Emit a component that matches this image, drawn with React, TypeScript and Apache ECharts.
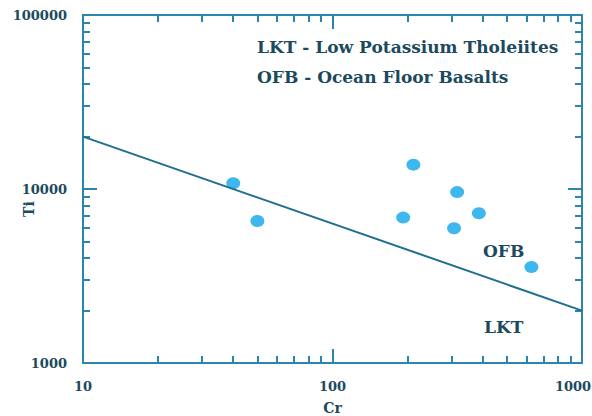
import React, { useEffect, useRef } from "react";
import * as echarts from "echarts";

const crValues = [40, 50, 211, 192, 316, 307, 386, 627];
const tiValues = [10800, 6550, 13800, 6850, 9600, 5950, 7250, 3560];
const boundaryCr = [10, 1000];
const boundaryTi = [20000, 2000];
const xMajor = [10, 100, 1000];
const xMinor = [20, 30, 40, 50, 60, 70, 80, 90, 200, 300, 400, 500, 600, 700, 800, 900];
const yMajor = [1000, 10000, 100000];
const yMinor = [2000, 3000, 4000, 5000, 6000, 7000, 8000, 9000, 20000, 30000, 40000, 50000, 60000, 70000, 80000, 90000];
const legendLines = ["LKT - Low Potassium Tholeiites", "OFB - Ocean Floor Basalts"];

const AXIS = "#2a85ad";
const TEXT = "#1b4a5e";
const FONT = "'DejaVu Serif', serif";

export default function App() {
  const ref = useRef<HTMLDivElement>(null);
  useEffect(() => {
    document.body.style.margin = "0";
    const chart = echarts.init(ref.current!, null, { renderer: "svg" });
    const baseX = (pos: string, major: boolean, show: boolean) => ({
      type: "log",
      logBase: 10,
      min: 10,
      max: 1000,
      position: pos,
      gridIndex: 0,
      axisLine: { show: true, onZero: false, lineStyle: { color: AXIS, width: 2 } },
      axisTick: {
        show: true,
        inside: true,
        length: major ? 14 : 7,
        customValues: major ? xMajor : xMinor,
        lineStyle: { color: AXIS, width: 2 },
      },
      axisLabel: {
        show,
        margin: 17,
        color: TEXT,
        fontFamily: FONT,
        fontWeight: "bold",
        fontSize: 13,
        formatter: (v: number) => (v >= 1000 ? `{m|${v}}` : String(v)),
        rich: {
          m: { padding: [0, 18, 0, 0], color: TEXT, fontFamily: FONT, fontWeight: "bold", fontSize: 13 },
        },
      },
      splitLine: { show: false },
      name: show ? "Cr" : "",
      nameLocation: "middle",
      nameGap: 38,
      nameMoveOverlap: false,
      nameTextStyle: { color: TEXT, fontFamily: FONT, fontWeight: "bold", fontSize: 14 },
    });
    const baseY = (pos: string, major: boolean, show: boolean) => ({
      type: "log",
      logBase: 10,
      min: 1000,
      max: 100000,
      position: pos,
      gridIndex: 0,
      axisLine: { show: true, onZero: false, lineStyle: { color: AXIS, width: 2 } },
      axisTick: {
        show: true,
        inside: true,
        length: major ? 14 : 7,
        customValues: major ? yMajor : yMinor,
        lineStyle: { color: AXIS, width: 2 },
      },
      axisLabel: {
        show,
        margin: 16,
        color: TEXT,
        fontFamily: FONT,
        fontWeight: "bold",
        fontSize: 13,
        formatter: (v: number) => String(v),
      },
      splitLine: { show: false },
    });
    chart.setOption({
      animation: false,
      backgroundColor: "#ffffff",
      grid: { left: 83, right: 10, top: 15, bottom: 53, containLabel: false, outerBoundsMode: "none" },
      xAxis: [
        baseX("bottom", true, true),
        baseX("bottom", false, false),
        baseX("top", true, false),
        baseX("top", false, false),
      ],
      yAxis: [
        baseY("left", true, true),
        baseY("left", false, false),
        baseY("right", true, false),
        baseY("right", false, false),
      ],
      series: [
        {
          type: "line",
          xAxisIndex: 0,
          yAxisIndex: 0,
          data: boundaryCr.map((c, i) => [c, boundaryTi[i]]),
          symbol: "none",
          lineStyle: { color: "#1f6f8f", width: 2 },
        },
        {
          type: "scatter",
          xAxisIndex: 0,
          yAxisIndex: 0,
          data: crValues.map((c, i) => [c, tiValues[i]]),
          symbol: "circle",
          symbolSize: [14, 12],
          itemStyle: { color: "#0ea5ea" },
        },
      ],
      graphic: [
        {
          type: "text",
          x: 29,
          y: 209,
          rotation: Math.PI / 2,
          style: { text: "Ti", fill: TEXT, font: `bold 14px ${FONT}`, align: "center", verticalAlign: "middle" },
        },
        {
          type: "text",
          left: 257,
          top: 38,
          style: { text: legendLines[0], fill: TEXT, font: `bold 17px ${FONT}` },
        },
        {
          type: "text",
          left: 257,
          top: 68,
          style: { text: legendLines[1], fill: TEXT, font: `bold 17px ${FONT}` },
        },
        {
          type: "text",
          left: 483,
          top: 242,
          style: { text: "OFB", fill: TEXT, font: `bold 17px ${FONT}` },
        },
        {
          type: "text",
          left: 484,
          top: 318,
          style: { text: "LKT", fill: TEXT, font: `bold 17px ${FONT}` },
        },
      ],
    });
    return () => chart.dispose();
  }, []);
  return <div ref={ref} style={{ position: "fixed", left: 0, top: 0, width: 592, height: 416 }} />;
}
